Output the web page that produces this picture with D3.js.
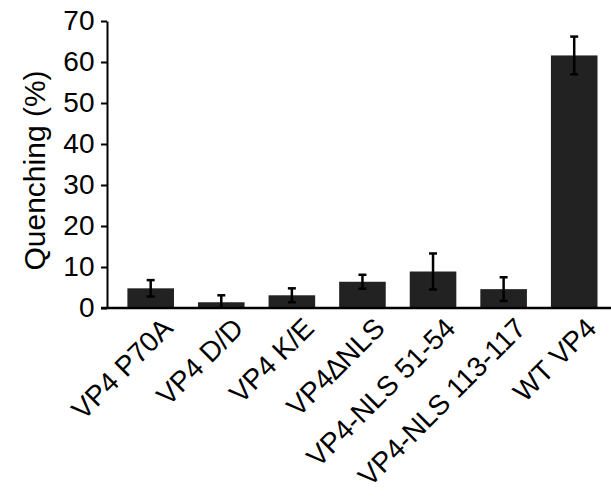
<!DOCTYPE html>
<html><head><meta charset="utf-8">
<script src="https://cdn.jsdelivr.net/npm/d3@7"></script>
<style>body{margin:0;background:#fff}svg{display:block}</style>
</head><body>
<svg id="c" width="611" height="498"></svg>
<script>
const categories = ["VP4 P70A","VP4 D/D","VP4 K/E","VP4\u2206NLS","VP4-NLS 51-54","VP4-NLS 113-117","WT VP4"];
const values = [4.8, 1.4, 3.1, 6.4, 8.9, 4.6, 61.6];
const errors = [2.0, 1.7, 1.7, 1.7, 4.4, 2.9, 4.6];
const yTicks = [0,10,20,30,40,50,60,70];

const svg = d3.select("#c");
const font = "'Liberation Sans', Arial, sans-serif";
const y = d3.scaleLinear().domain([0,70]).range([308,21]);
const x = d3.scaleBand().domain(categories).range([115.4,609.5]).paddingInner(0.34).paddingOuter(0.17);

// bars
svg.selectAll("rect.bar").data(values).join("rect")
  .attr("x",(d,i)=>x(categories[i])).attr("width",x.bandwidth())
  .attr("y",d=>y(d)).attr("height",d=>y(0)-y(d))
  .attr("fill","#222");

// error bars
const eg = svg.append("g").attr("stroke","#000").attr("stroke-width",2.5);
values.forEach((v,i)=>{
  const cx = x(categories[i]) + x.bandwidth()/2;
  const top = y(v+errors[i]), bot = y(Math.max(0,v-errors[i]));
  eg.append("line").attr("x1",cx).attr("x2",cx).attr("y1",top).attr("y2",bot);
  eg.append("line").attr("x1",cx-4).attr("x2",cx+4).attr("y1",top).attr("y2",top);
  if (v-errors[i] > 0) eg.append("line").attr("x1",cx-4).attr("x2",cx+4).attr("y1",bot).attr("y2",bot);
});

// y axis
const ya = svg.append("g").attr("transform","translate(107,0)")
  .call(d3.axisLeft(y).tickValues(yTicks).tickSize(6).tickSizeOuter(0).tickPadding(6.5));
ya.select(".domain").attr("stroke-width",2);
ya.selectAll(".tick line").attr("stroke-width",2);
ya.selectAll(".tick text").attr("font-family",font).attr("font-size",28).attr("fill","#000");

// x axis line
svg.append("line").attr("x1",101).attr("x2",611).attr("y1",308).attr("y2",308)
  .attr("stroke","#000").attr("stroke-width",2.5);

// x labels
svg.append("g").selectAll("text").data(categories).join("text")
  .attr("transform",d=>`translate(${x(d)+x.bandwidth()/2+12},${318}) rotate(-45)`)
  .attr("text-anchor","end").attr("dy","0.6em")
  .attr("font-family",font).attr("font-size",28).attr("fill","#000")
  .text(d=>d);

// y label
svg.append("text").attr("transform","translate(45,170.5) rotate(-90)")
  .attr("text-anchor","middle").attr("font-family",font).attr("font-size",30).attr("fill","#000")
  .text("Quenching (%)");
</script>
</body></html>
